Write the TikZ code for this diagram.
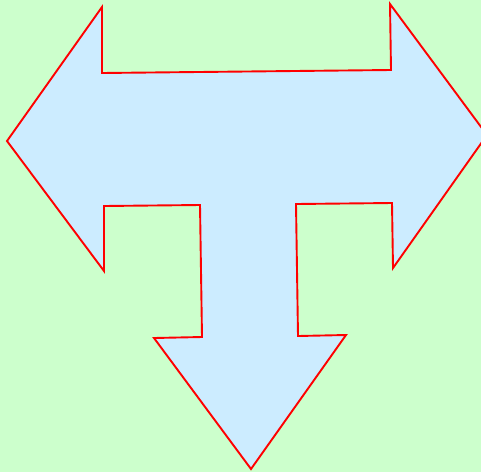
\documentclass[tikz,border=0pt]{standalone}
\definecolor{bggreen}{RGB}{204,255,204}
\definecolor{arrowblue}{RGB}{204,236,255}
\tikzset{shapeline/.style={draw=red,fill=arrowblue,line width=1.9pt,line join=miter}}
\begin{document}
\begin{tikzpicture}[x=1pt,y=-1pt]
\useasboundingbox (0,0) rectangle (481,472);
\fill[bggreen] (0,0) rectangle (481,472);
\clip (0,0) rectangle (481,472);
\coordinate (p1) at (7,141);
\coordinate (p2) at (102,7);
\coordinate (p3) at (102,73);
\coordinate (p4) at (391,70);
\coordinate (p5) at (390,4);
\coordinate (p6) at (487,135);
\coordinate (p7) at (393,268);
\coordinate (p8) at (392,203);
\coordinate (p9) at (296,204);
\coordinate (p10) at (298,336);
\coordinate (p11) at (346,335);
\coordinate (p12) at (251,469);
\coordinate (p13) at (154,338);
\coordinate (p14) at (202,337);
\coordinate (p15) at (200,205);
\coordinate (p16) at (104,206);
\coordinate (p17) at (104,271);
\draw[shapeline] (p1) -- (p2) -- (p3) -- (p4) -- (p5) -- (p6) -- (p7) -- (p8) -- (p9) -- (p10) -- (p11) -- (p12) -- (p13) -- (p14) -- (p15) -- (p16) -- (p17) -- cycle;
\end{tikzpicture}
\end{document}
